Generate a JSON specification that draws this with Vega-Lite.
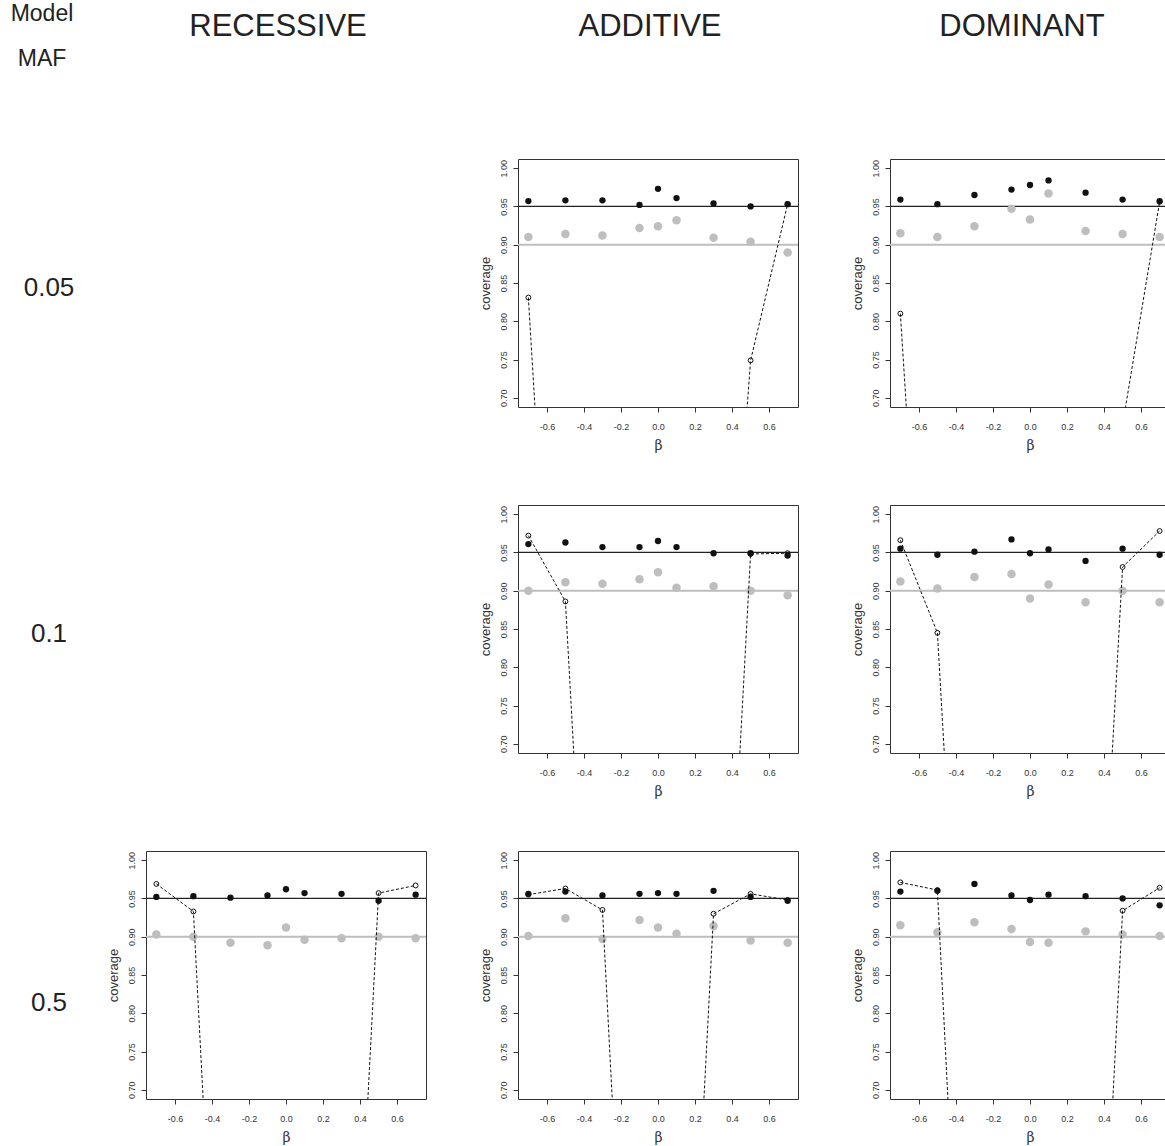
{
  "$schema": "https://vega.github.io/schema/vega-lite/v6.json",
  "padding": {"left": 10, "top": 3, "right": 0, "bottom": 5},
  "data": {"values": [
    {"m":"ADDITIVE","f":"0.05","b":-0.7,"black":0.957,"gray":0.910,"open":0.831},
    {"m":"ADDITIVE","f":"0.05","b":-0.5,"black":0.958,"gray":0.914,"open":0.03},
    {"m":"ADDITIVE","f":"0.05","b":-0.3,"black":0.958,"gray":0.912,"open":0.02},
    {"m":"ADDITIVE","f":"0.05","b":-0.1,"black":0.952,"gray":0.922,"open":0.01},
    {"m":"ADDITIVE","f":"0.05","b":0.0,"black":0.973,"gray":0.924,"open":0.01},
    {"m":"ADDITIVE","f":"0.05","b":0.1,"black":0.961,"gray":0.932,"open":0.02},
    {"m":"ADDITIVE","f":"0.05","b":0.3,"black":0.954,"gray":0.909,"open":0.09},
    {"m":"ADDITIVE","f":"0.05","b":0.5,"black":0.950,"gray":0.904,"open":0.749},
    {"m":"ADDITIVE","f":"0.05","b":0.7,"black":0.953,"gray":0.890,"open":0.953},
    {"m":"DOMINANT","f":"0.05","b":-0.7,"black":0.959,"gray":0.915,"open":0.810},
    {"m":"DOMINANT","f":"0.05","b":-0.5,"black":0.953,"gray":0.910,"open":0.05},
    {"m":"DOMINANT","f":"0.05","b":-0.3,"black":0.965,"gray":0.924,"open":0.03},
    {"m":"DOMINANT","f":"0.05","b":-0.1,"black":0.972,"gray":0.947,"open":0.02},
    {"m":"DOMINANT","f":"0.05","b":0.0,"black":0.978,"gray":0.933,"open":0.02},
    {"m":"DOMINANT","f":"0.05","b":0.1,"black":0.984,"gray":0.967,"open":0.03},
    {"m":"DOMINANT","f":"0.05","b":0.3,"black":0.968,"gray":0.918,"open":0.10},
    {"m":"DOMINANT","f":"0.05","b":0.5,"black":0.959,"gray":0.914,"open":0.665},
    {"m":"DOMINANT","f":"0.05","b":0.7,"black":0.957,"gray":0.910,"open":0.956},
    {"m":"ADDITIVE","f":"0.1","b":-0.7,"black":0.961,"gray":0.900,"open":0.972},
    {"m":"ADDITIVE","f":"0.1","b":-0.5,"black":0.963,"gray":0.911,"open":0.886},
    {"m":"ADDITIVE","f":"0.1","b":-0.3,"black":0.957,"gray":0.909,"open":0.01},
    {"m":"ADDITIVE","f":"0.1","b":-0.1,"black":0.957,"gray":0.915,"open":0.01},
    {"m":"ADDITIVE","f":"0.1","b":0.0,"black":0.965,"gray":0.924,"open":0.02},
    {"m":"ADDITIVE","f":"0.1","b":0.1,"black":0.957,"gray":0.904,"open":0.02},
    {"m":"ADDITIVE","f":"0.1","b":0.3,"black":0.949,"gray":0.906,"open":0.05},
    {"m":"ADDITIVE","f":"0.1","b":0.5,"black":0.949,"gray":0.900,"open":0.948},
    {"m":"ADDITIVE","f":"0.1","b":0.7,"black":0.946,"gray":0.894,"open":0.949},
    {"m":"DOMINANT","f":"0.1","b":-0.7,"black":0.955,"gray":0.912,"open":0.966},
    {"m":"DOMINANT","f":"0.1","b":-0.5,"black":0.947,"gray":0.903,"open":0.845},
    {"m":"DOMINANT","f":"0.1","b":-0.3,"black":0.951,"gray":0.918,"open":0.0},
    {"m":"DOMINANT","f":"0.1","b":-0.1,"black":0.967,"gray":0.922,"open":0.01},
    {"m":"DOMINANT","f":"0.1","b":0.0,"black":0.949,"gray":0.890,"open":0.02},
    {"m":"DOMINANT","f":"0.1","b":0.1,"black":0.954,"gray":0.908,"open":0.01},
    {"m":"DOMINANT","f":"0.1","b":0.3,"black":0.939,"gray":0.885,"open":0.063},
    {"m":"DOMINANT","f":"0.1","b":0.5,"black":0.955,"gray":0.900,"open":0.931},
    {"m":"DOMINANT","f":"0.1","b":0.7,"black":0.947,"gray":0.885,"open":0.978},
    {"m":"RECESSIVE","f":"0.5","b":-0.7,"black":0.952,"gray":0.903,"open":0.969},
    {"m":"RECESSIVE","f":"0.5","b":-0.5,"black":0.953,"gray":0.900,"open":0.933},
    {"m":"RECESSIVE","f":"0.5","b":-0.3,"black":0.951,"gray":0.892,"open":0.0},
    {"m":"RECESSIVE","f":"0.5","b":-0.1,"black":0.954,"gray":0.889,"open":0.01},
    {"m":"RECESSIVE","f":"0.5","b":0.0,"black":0.962,"gray":0.912,"open":0.01},
    {"m":"RECESSIVE","f":"0.5","b":0.1,"black":0.957,"gray":0.896,"open":0.01},
    {"m":"RECESSIVE","f":"0.5","b":0.3,"black":0.956,"gray":0.898,"open":0.029},
    {"m":"RECESSIVE","f":"0.5","b":0.5,"black":0.947,"gray":0.900,"open":0.957},
    {"m":"RECESSIVE","f":"0.5","b":0.7,"black":0.955,"gray":0.898,"open":0.967},
    {"m":"ADDITIVE","f":"0.5","b":-0.7,"black":0.956,"gray":0.901,"open":0.955},
    {"m":"ADDITIVE","f":"0.5","b":-0.5,"black":0.959,"gray":0.924,"open":0.963},
    {"m":"ADDITIVE","f":"0.5","b":-0.3,"black":0.954,"gray":0.897,"open":0.935},
    {"m":"ADDITIVE","f":"0.5","b":-0.1,"black":0.956,"gray":0.922,"open":0.0},
    {"m":"ADDITIVE","f":"0.5","b":0.0,"black":0.957,"gray":0.912,"open":0.01},
    {"m":"ADDITIVE","f":"0.5","b":0.1,"black":0.956,"gray":0.904,"open":0.0},
    {"m":"ADDITIVE","f":"0.5","b":0.3,"black":0.960,"gray":0.914,"open":0.930},
    {"m":"ADDITIVE","f":"0.5","b":0.5,"black":0.952,"gray":0.895,"open":0.956},
    {"m":"ADDITIVE","f":"0.5","b":0.7,"black":0.947,"gray":0.892,"open":0.948},
    {"m":"DOMINANT","f":"0.5","b":-0.7,"black":0.959,"gray":0.915,"open":0.971},
    {"m":"DOMINANT","f":"0.5","b":-0.5,"black":0.960,"gray":0.906,"open":0.961},
    {"m":"DOMINANT","f":"0.5","b":-0.3,"black":0.969,"gray":0.919,"open":0.0},
    {"m":"DOMINANT","f":"0.5","b":-0.1,"black":0.954,"gray":0.910,"open":0.01},
    {"m":"DOMINANT","f":"0.5","b":0.0,"black":0.948,"gray":0.893,"open":0.01},
    {"m":"DOMINANT","f":"0.5","b":0.1,"black":0.955,"gray":0.892,"open":0.01},
    {"m":"DOMINANT","f":"0.5","b":0.3,"black":0.953,"gray":0.907,"open":0.0},
    {"m":"DOMINANT","f":"0.5","b":0.5,"black":0.950,"gray":0.903,"open":0.934},
    {"m":"DOMINANT","f":"0.5","b":0.7,"black":0.941,"gray":0.901,"open":0.964}
  ]},
  "columns": 4,
  "spacing": {"row": 98, "column": 92},
  "bounds": "flush",
  "concat": [
    {"width": 10, "height": 248, "data": {"values": [{"label": "0.05"}]}, "view": {"stroke": null},
      "title": {"text": "Model", "subtitle": "MAF", "fontSize": 23, "subtitleFontSize": 23, "subtitleFont": "Liberation Sans", "subtitleColor": "#222", "subtitlePadding": 22, "offset": 88, "anchor": "middle", "dx": -7},
      "mark": {"type": "text", "fontSize": 26, "font": "Liberation Sans", "color": "#222", "dy": 5},
      "encoding": {"text": {"field": "label"}}},
    {"width": 280, "height": 248, "data": {"values": []}, "view": {"stroke": null},
      "title": {"text": "RECESSIVE", "fontSize": 31, "offset": 116, "anchor": "middle", "dx": -8},
      "mark": "point"},
    {"width": 280, "height": 248,
      "title": {"text": "ADDITIVE", "fontSize": 31, "offset": 116, "anchor": "middle", "dx": -8},
      "transform": [{"filter": "datum.m == 'ADDITIVE' && datum.f == '0.05'"}],
      "encoding": {"x": {"field": "b", "type": "quantitative", "title": "β", "scale": {"domain": [-0.756, 0.756], "nice": false, "zero": false}, "axis": {"values": [-0.6, -0.4, -0.2, 0, 0.2, 0.4, 0.6], "labelExpr": "replace(format(datum.value, '.1f'), '−', '-')"}}},
      "layer": [
        {"transform": [{"filter": "datum.b == 0"}], "mark": {"type": "rule", "color": "#bebebe", "strokeWidth": 2}, "encoding": {"x": {"datum": -0.756, "type": "quantitative"}, "x2": {"datum": 0.756}, "y": {"datum": 0.90, "type": "quantitative"}}},
        {"transform": [{"filter": "datum.b == 0"}], "mark": {"type": "rule", "color": "#222", "strokeWidth": 1.2}, "encoding": {"x": {"datum": -0.756, "type": "quantitative"}, "x2": {"datum": 0.756}, "y": {"datum": 0.95, "type": "quantitative"}}},
        {"mark": {"type": "point", "shape": "circle", "filled": true, "color": "#bebebe", "opacity": 1, "size": 72, "clip": true}, "encoding": {"y": {"field": "gray", "type": "quantitative", "title": "coverage", "scale": {"domain": [0.688, 1.012], "nice": false, "zero": false}, "axis": {"values": [0.7, 0.75, 0.8, 0.85, 0.9, 0.95, 1.0], "format": ".2f"}}}},
        {"mark": {"type": "line", "color": "#111", "strokeWidth": 1, "strokeDash": [3, 2], "clip": true}, "encoding": {"y": {"field": "open", "type": "quantitative", "title": "coverage", "scale": {"domain": [0.688, 1.012], "nice": false, "zero": false}, "axis": {"values": [0.7, 0.75, 0.8, 0.85, 0.9, 0.95, 1.0], "format": ".2f"}}, "order": {"field": "b"}}},
        {"mark": {"type": "point", "shape": "circle", "filled": false, "color": "#111", "opacity": 1, "strokeWidth": 1, "size": 24, "clip": true}, "encoding": {"y": {"field": "open", "type": "quantitative", "title": "coverage", "scale": {"domain": [0.688, 1.012], "nice": false, "zero": false}, "axis": {"values": [0.7, 0.75, 0.8, 0.85, 0.9, 0.95, 1.0], "format": ".2f"}}}},
        {"mark": {"type": "point", "shape": "circle", "filled": true, "color": "#111", "opacity": 1, "size": 40, "clip": true}, "encoding": {"y": {"field": "black", "type": "quantitative", "title": "coverage", "scale": {"domain": [0.688, 1.012], "nice": false, "zero": false}, "axis": {"values": [0.7, 0.75, 0.8, 0.85, 0.9, 0.95, 1.0], "format": ".2f"}}}}
      ]},
    {"width": 280, "height": 248,
      "title": {"text": "DOMINANT", "fontSize": 31, "offset": 116, "anchor": "middle", "dx": -8},
      "transform": [{"filter": "datum.m == 'DOMINANT' && datum.f == '0.05'"}],
      "encoding": {"x": {"field": "b", "type": "quantitative", "title": "β", "scale": {"domain": [-0.756, 0.756], "nice": false, "zero": false}, "axis": {"values": [-0.6, -0.4, -0.2, 0, 0.2, 0.4, 0.6], "labelExpr": "replace(format(datum.value, '.1f'), '−', '-')"}}},
      "layer": [
        {"transform": [{"filter": "datum.b == 0"}], "mark": {"type": "rule", "color": "#bebebe", "strokeWidth": 2}, "encoding": {"x": {"datum": -0.756, "type": "quantitative"}, "x2": {"datum": 0.756}, "y": {"datum": 0.90, "type": "quantitative"}}},
        {"transform": [{"filter": "datum.b == 0"}], "mark": {"type": "rule", "color": "#222", "strokeWidth": 1.2}, "encoding": {"x": {"datum": -0.756, "type": "quantitative"}, "x2": {"datum": 0.756}, "y": {"datum": 0.95, "type": "quantitative"}}},
        {"mark": {"type": "point", "shape": "circle", "filled": true, "color": "#bebebe", "opacity": 1, "size": 72, "clip": true}, "encoding": {"y": {"field": "gray", "type": "quantitative", "title": "coverage", "scale": {"domain": [0.688, 1.012], "nice": false, "zero": false}, "axis": {"values": [0.7, 0.75, 0.8, 0.85, 0.9, 0.95, 1.0], "format": ".2f"}}}},
        {"mark": {"type": "line", "color": "#111", "strokeWidth": 1, "strokeDash": [3, 2], "clip": true}, "encoding": {"y": {"field": "open", "type": "quantitative", "title": "coverage", "scale": {"domain": [0.688, 1.012], "nice": false, "zero": false}, "axis": {"values": [0.7, 0.75, 0.8, 0.85, 0.9, 0.95, 1.0], "format": ".2f"}}, "order": {"field": "b"}}},
        {"mark": {"type": "point", "shape": "circle", "filled": false, "color": "#111", "opacity": 1, "strokeWidth": 1, "size": 24, "clip": true}, "encoding": {"y": {"field": "open", "type": "quantitative", "title": "coverage", "scale": {"domain": [0.688, 1.012], "nice": false, "zero": false}, "axis": {"values": [0.7, 0.75, 0.8, 0.85, 0.9, 0.95, 1.0], "format": ".2f"}}}},
        {"mark": {"type": "point", "shape": "circle", "filled": true, "color": "#111", "opacity": 1, "size": 40, "clip": true}, "encoding": {"y": {"field": "black", "type": "quantitative", "title": "coverage", "scale": {"domain": [0.688, 1.012], "nice": false, "zero": false}, "axis": {"values": [0.7, 0.75, 0.8, 0.85, 0.9, 0.95, 1.0], "format": ".2f"}}}}
      ]},
    {"width": 10, "height": 248, "data": {"values": [{"label": "0.1"}]}, "view": {"stroke": null},
      "mark": {"type": "text", "fontSize": 26, "font": "Liberation Sans", "color": "#222", "dy": 5},
      "encoding": {"text": {"field": "label"}}},
    {"width": 280, "height": 248, "data": {"values": []}, "view": {"stroke": null}, "mark": "point"},
    {"width": 280, "height": 248,
      "transform": [{"filter": "datum.m == 'ADDITIVE' && datum.f == '0.1'"}],
      "encoding": {"x": {"field": "b", "type": "quantitative", "title": "β", "scale": {"domain": [-0.756, 0.756], "nice": false, "zero": false}, "axis": {"values": [-0.6, -0.4, -0.2, 0, 0.2, 0.4, 0.6], "labelExpr": "replace(format(datum.value, '.1f'), '−', '-')"}}},
      "layer": [
        {"transform": [{"filter": "datum.b == 0"}], "mark": {"type": "rule", "color": "#bebebe", "strokeWidth": 2}, "encoding": {"x": {"datum": -0.756, "type": "quantitative"}, "x2": {"datum": 0.756}, "y": {"datum": 0.90, "type": "quantitative"}}},
        {"transform": [{"filter": "datum.b == 0"}], "mark": {"type": "rule", "color": "#222", "strokeWidth": 1.2}, "encoding": {"x": {"datum": -0.756, "type": "quantitative"}, "x2": {"datum": 0.756}, "y": {"datum": 0.95, "type": "quantitative"}}},
        {"mark": {"type": "point", "shape": "circle", "filled": true, "color": "#bebebe", "opacity": 1, "size": 72, "clip": true}, "encoding": {"y": {"field": "gray", "type": "quantitative", "title": "coverage", "scale": {"domain": [0.688, 1.012], "nice": false, "zero": false}, "axis": {"values": [0.7, 0.75, 0.8, 0.85, 0.9, 0.95, 1.0], "format": ".2f"}}}},
        {"mark": {"type": "line", "color": "#111", "strokeWidth": 1, "strokeDash": [3, 2], "clip": true}, "encoding": {"y": {"field": "open", "type": "quantitative", "title": "coverage", "scale": {"domain": [0.688, 1.012], "nice": false, "zero": false}, "axis": {"values": [0.7, 0.75, 0.8, 0.85, 0.9, 0.95, 1.0], "format": ".2f"}}, "order": {"field": "b"}}},
        {"mark": {"type": "point", "shape": "circle", "filled": false, "color": "#111", "opacity": 1, "strokeWidth": 1, "size": 24, "clip": true}, "encoding": {"y": {"field": "open", "type": "quantitative", "title": "coverage", "scale": {"domain": [0.688, 1.012], "nice": false, "zero": false}, "axis": {"values": [0.7, 0.75, 0.8, 0.85, 0.9, 0.95, 1.0], "format": ".2f"}}}},
        {"mark": {"type": "point", "shape": "circle", "filled": true, "color": "#111", "opacity": 1, "size": 40, "clip": true}, "encoding": {"y": {"field": "black", "type": "quantitative", "title": "coverage", "scale": {"domain": [0.688, 1.012], "nice": false, "zero": false}, "axis": {"values": [0.7, 0.75, 0.8, 0.85, 0.9, 0.95, 1.0], "format": ".2f"}}}}
      ]},
    {"width": 280, "height": 248,
      "transform": [{"filter": "datum.m == 'DOMINANT' && datum.f == '0.1'"}],
      "encoding": {"x": {"field": "b", "type": "quantitative", "title": "β", "scale": {"domain": [-0.756, 0.756], "nice": false, "zero": false}, "axis": {"values": [-0.6, -0.4, -0.2, 0, 0.2, 0.4, 0.6], "labelExpr": "replace(format(datum.value, '.1f'), '−', '-')"}}},
      "layer": [
        {"transform": [{"filter": "datum.b == 0"}], "mark": {"type": "rule", "color": "#bebebe", "strokeWidth": 2}, "encoding": {"x": {"datum": -0.756, "type": "quantitative"}, "x2": {"datum": 0.756}, "y": {"datum": 0.90, "type": "quantitative"}}},
        {"transform": [{"filter": "datum.b == 0"}], "mark": {"type": "rule", "color": "#222", "strokeWidth": 1.2}, "encoding": {"x": {"datum": -0.756, "type": "quantitative"}, "x2": {"datum": 0.756}, "y": {"datum": 0.95, "type": "quantitative"}}},
        {"mark": {"type": "point", "shape": "circle", "filled": true, "color": "#bebebe", "opacity": 1, "size": 72, "clip": true}, "encoding": {"y": {"field": "gray", "type": "quantitative", "title": "coverage", "scale": {"domain": [0.688, 1.012], "nice": false, "zero": false}, "axis": {"values": [0.7, 0.75, 0.8, 0.85, 0.9, 0.95, 1.0], "format": ".2f"}}}},
        {"mark": {"type": "line", "color": "#111", "strokeWidth": 1, "strokeDash": [3, 2], "clip": true}, "encoding": {"y": {"field": "open", "type": "quantitative", "title": "coverage", "scale": {"domain": [0.688, 1.012], "nice": false, "zero": false}, "axis": {"values": [0.7, 0.75, 0.8, 0.85, 0.9, 0.95, 1.0], "format": ".2f"}}, "order": {"field": "b"}}},
        {"mark": {"type": "point", "shape": "circle", "filled": false, "color": "#111", "opacity": 1, "strokeWidth": 1, "size": 24, "clip": true}, "encoding": {"y": {"field": "open", "type": "quantitative", "title": "coverage", "scale": {"domain": [0.688, 1.012], "nice": false, "zero": false}, "axis": {"values": [0.7, 0.75, 0.8, 0.85, 0.9, 0.95, 1.0], "format": ".2f"}}}},
        {"mark": {"type": "point", "shape": "circle", "filled": true, "color": "#111", "opacity": 1, "size": 40, "clip": true}, "encoding": {"y": {"field": "black", "type": "quantitative", "title": "coverage", "scale": {"domain": [0.688, 1.012], "nice": false, "zero": false}, "axis": {"values": [0.7, 0.75, 0.8, 0.85, 0.9, 0.95, 1.0], "format": ".2f"}}}}
      ]},
    {"width": 10, "height": 248, "data": {"values": [{"label": "0.5"}]}, "view": {"stroke": null},
      "mark": {"type": "text", "fontSize": 26, "font": "Liberation Sans", "color": "#222", "dy": 28},
      "encoding": {"text": {"field": "label"}}},
    {"width": 280, "height": 248,
      "transform": [{"filter": "datum.m == 'RECESSIVE' && datum.f == '0.5'"}],
      "encoding": {"x": {"field": "b", "type": "quantitative", "title": "β", "scale": {"domain": [-0.756, 0.756], "nice": false, "zero": false}, "axis": {"values": [-0.6, -0.4, -0.2, 0, 0.2, 0.4, 0.6], "labelExpr": "replace(format(datum.value, '.1f'), '−', '-')"}}},
      "layer": [
        {"transform": [{"filter": "datum.b == 0"}], "mark": {"type": "rule", "color": "#bebebe", "strokeWidth": 2}, "encoding": {"x": {"datum": -0.756, "type": "quantitative"}, "x2": {"datum": 0.756}, "y": {"datum": 0.90, "type": "quantitative"}}},
        {"transform": [{"filter": "datum.b == 0"}], "mark": {"type": "rule", "color": "#222", "strokeWidth": 1.2}, "encoding": {"x": {"datum": -0.756, "type": "quantitative"}, "x2": {"datum": 0.756}, "y": {"datum": 0.95, "type": "quantitative"}}},
        {"mark": {"type": "point", "shape": "circle", "filled": true, "color": "#bebebe", "opacity": 1, "size": 72, "clip": true}, "encoding": {"y": {"field": "gray", "type": "quantitative", "title": "coverage", "scale": {"domain": [0.688, 1.012], "nice": false, "zero": false}, "axis": {"values": [0.7, 0.75, 0.8, 0.85, 0.9, 0.95, 1.0], "format": ".2f"}}}},
        {"mark": {"type": "line", "color": "#111", "strokeWidth": 1, "strokeDash": [3, 2], "clip": true}, "encoding": {"y": {"field": "open", "type": "quantitative", "title": "coverage", "scale": {"domain": [0.688, 1.012], "nice": false, "zero": false}, "axis": {"values": [0.7, 0.75, 0.8, 0.85, 0.9, 0.95, 1.0], "format": ".2f"}}, "order": {"field": "b"}}},
        {"mark": {"type": "point", "shape": "circle", "filled": false, "color": "#111", "opacity": 1, "strokeWidth": 1, "size": 24, "clip": true}, "encoding": {"y": {"field": "open", "type": "quantitative", "title": "coverage", "scale": {"domain": [0.688, 1.012], "nice": false, "zero": false}, "axis": {"values": [0.7, 0.75, 0.8, 0.85, 0.9, 0.95, 1.0], "format": ".2f"}}}},
        {"mark": {"type": "point", "shape": "circle", "filled": true, "color": "#111", "opacity": 1, "size": 40, "clip": true}, "encoding": {"y": {"field": "black", "type": "quantitative", "title": "coverage", "scale": {"domain": [0.688, 1.012], "nice": false, "zero": false}, "axis": {"values": [0.7, 0.75, 0.8, 0.85, 0.9, 0.95, 1.0], "format": ".2f"}}}}
      ]},
    {"width": 280, "height": 248,
      "transform": [{"filter": "datum.m == 'ADDITIVE' && datum.f == '0.5'"}],
      "encoding": {"x": {"field": "b", "type": "quantitative", "title": "β", "scale": {"domain": [-0.756, 0.756], "nice": false, "zero": false}, "axis": {"values": [-0.6, -0.4, -0.2, 0, 0.2, 0.4, 0.6], "labelExpr": "replace(format(datum.value, '.1f'), '−', '-')"}}},
      "layer": [
        {"transform": [{"filter": "datum.b == 0"}], "mark": {"type": "rule", "color": "#bebebe", "strokeWidth": 2}, "encoding": {"x": {"datum": -0.756, "type": "quantitative"}, "x2": {"datum": 0.756}, "y": {"datum": 0.90, "type": "quantitative"}}},
        {"transform": [{"filter": "datum.b == 0"}], "mark": {"type": "rule", "color": "#222", "strokeWidth": 1.2}, "encoding": {"x": {"datum": -0.756, "type": "quantitative"}, "x2": {"datum": 0.756}, "y": {"datum": 0.95, "type": "quantitative"}}},
        {"mark": {"type": "point", "shape": "circle", "filled": true, "color": "#bebebe", "opacity": 1, "size": 72, "clip": true}, "encoding": {"y": {"field": "gray", "type": "quantitative", "title": "coverage", "scale": {"domain": [0.688, 1.012], "nice": false, "zero": false}, "axis": {"values": [0.7, 0.75, 0.8, 0.85, 0.9, 0.95, 1.0], "format": ".2f"}}}},
        {"mark": {"type": "line", "color": "#111", "strokeWidth": 1, "strokeDash": [3, 2], "clip": true}, "encoding": {"y": {"field": "open", "type": "quantitative", "title": "coverage", "scale": {"domain": [0.688, 1.012], "nice": false, "zero": false}, "axis": {"values": [0.7, 0.75, 0.8, 0.85, 0.9, 0.95, 1.0], "format": ".2f"}}, "order": {"field": "b"}}},
        {"mark": {"type": "point", "shape": "circle", "filled": false, "color": "#111", "opacity": 1, "strokeWidth": 1, "size": 24, "clip": true}, "encoding": {"y": {"field": "open", "type": "quantitative", "title": "coverage", "scale": {"domain": [0.688, 1.012], "nice": false, "zero": false}, "axis": {"values": [0.7, 0.75, 0.8, 0.85, 0.9, 0.95, 1.0], "format": ".2f"}}}},
        {"mark": {"type": "point", "shape": "circle", "filled": true, "color": "#111", "opacity": 1, "size": 40, "clip": true}, "encoding": {"y": {"field": "black", "type": "quantitative", "title": "coverage", "scale": {"domain": [0.688, 1.012], "nice": false, "zero": false}, "axis": {"values": [0.7, 0.75, 0.8, 0.85, 0.9, 0.95, 1.0], "format": ".2f"}}}}
      ]},
    {"width": 280, "height": 248,
      "transform": [{"filter": "datum.m == 'DOMINANT' && datum.f == '0.5'"}],
      "encoding": {"x": {"field": "b", "type": "quantitative", "title": "β", "scale": {"domain": [-0.756, 0.756], "nice": false, "zero": false}, "axis": {"values": [-0.6, -0.4, -0.2, 0, 0.2, 0.4, 0.6], "labelExpr": "replace(format(datum.value, '.1f'), '−', '-')"}}},
      "layer": [
        {"transform": [{"filter": "datum.b == 0"}], "mark": {"type": "rule", "color": "#bebebe", "strokeWidth": 2}, "encoding": {"x": {"datum": -0.756, "type": "quantitative"}, "x2": {"datum": 0.756}, "y": {"datum": 0.90, "type": "quantitative"}}},
        {"transform": [{"filter": "datum.b == 0"}], "mark": {"type": "rule", "color": "#222", "strokeWidth": 1.2}, "encoding": {"x": {"datum": -0.756, "type": "quantitative"}, "x2": {"datum": 0.756}, "y": {"datum": 0.95, "type": "quantitative"}}},
        {"mark": {"type": "point", "shape": "circle", "filled": true, "color": "#bebebe", "opacity": 1, "size": 72, "clip": true}, "encoding": {"y": {"field": "gray", "type": "quantitative", "title": "coverage", "scale": {"domain": [0.688, 1.012], "nice": false, "zero": false}, "axis": {"values": [0.7, 0.75, 0.8, 0.85, 0.9, 0.95, 1.0], "format": ".2f"}}}},
        {"mark": {"type": "line", "color": "#111", "strokeWidth": 1, "strokeDash": [3, 2], "clip": true}, "encoding": {"y": {"field": "open", "type": "quantitative", "title": "coverage", "scale": {"domain": [0.688, 1.012], "nice": false, "zero": false}, "axis": {"values": [0.7, 0.75, 0.8, 0.85, 0.9, 0.95, 1.0], "format": ".2f"}}, "order": {"field": "b"}}},
        {"mark": {"type": "point", "shape": "circle", "filled": false, "color": "#111", "opacity": 1, "strokeWidth": 1, "size": 24, "clip": true}, "encoding": {"y": {"field": "open", "type": "quantitative", "title": "coverage", "scale": {"domain": [0.688, 1.012], "nice": false, "zero": false}, "axis": {"values": [0.7, 0.75, 0.8, 0.85, 0.9, 0.95, 1.0], "format": ".2f"}}}},
        {"mark": {"type": "point", "shape": "circle", "filled": true, "color": "#111", "opacity": 1, "size": 40, "clip": true}, "encoding": {"y": {"field": "black", "type": "quantitative", "title": "coverage", "scale": {"domain": [0.688, 1.012], "nice": false, "zero": false}, "axis": {"values": [0.7, 0.75, 0.8, 0.85, 0.9, 0.95, 1.0], "format": ".2f"}}}}
      ]}
  ],
  "config": {
    "view": {"stroke": "#333", "strokeWidth": 1},
    "background": "white",
    "title": {"font": "Liberation Sans", "fontWeight": "normal", "color": "#222"},
    "axisX": {"grid": false, "domain": false, "tickSize": 5, "tickColor": "#333", "labelPadding": 10, "labelFontSize": 9, "labelFont": "Liberation Sans", "labelColor": "#333", "titleFont": "DejaVu Serif", "titleFontSize": 14, "titleFontWeight": "normal", "titleColor": "#333", "titlePadding": 7},
    "axisY": {"grid": false, "domain": false, "labelAngle": 270, "tickSize": 5, "tickColor": "#333", "labelPadding": 5, "labelFontSize": 9, "labelFont": "Liberation Sans", "labelColor": "#333", "titleFont": "Liberation Sans", "titleFontSize": 13, "titleFontWeight": "normal", "titleColor": "#333", "titlePadding": 7}
  }
}
